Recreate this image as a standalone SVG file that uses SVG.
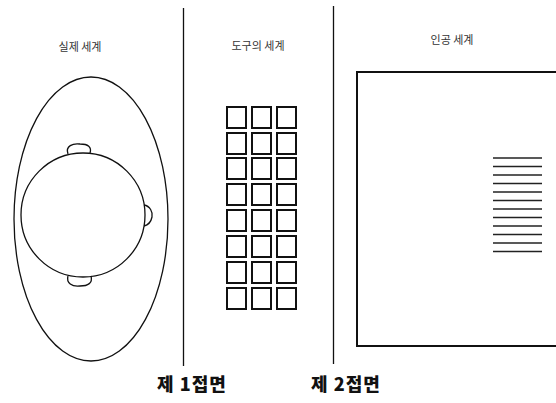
<svg xmlns="http://www.w3.org/2000/svg" width="556" height="403" viewBox="0 0 556 403">
<style>
.ln{fill:none;stroke:#111;stroke-width:1.3}
.sq{fill:#fff;stroke:#111;stroke-width:2}
.hl{stroke:#222;stroke-width:1.4}
.t{font-family:"Noto Sans CJK KR","Noto Sans",sans-serif;font-size:11px;fill:#333;text-anchor:middle}
.b{font-family:"Noto Sans CJK KR","Noto Sans",sans-serif;font-size:18px;font-weight:900;fill:#111;text-anchor:middle;letter-spacing:1px}
</style>
<rect width="556" height="403" fill="#fff"/>
<g id="dividers">
<line class="ln" x1="183.5" y1="8" x2="183.5" y2="366"/>
<line class="ln" x1="333.5" y1="6" x2="333.5" y2="364"/>
</g>
<g id="real-world">
<text class="t" x="80" y="51">실제 세계</text>
<ellipse class="ln" cx="91" cy="219" rx="77" ry="142"/>
<circle class="ln" cx="83" cy="215" r="62"/>
<path class="ln" d="M68,154 C65,146 73,143 80,144 C88,144 92,147 90,153"/>
<path class="ln" d="M144,205 C150,206 153,212 152,217 C151,222 148,225 144,226"/>
<path class="ln" d="M68,276 C66,283 72,287 80,286 C88,286 93,283 91,276"/>
</g>
<g id="tool-world">
<text class="t" x="258" y="50">도구의 세계</text>
<g id="grid">
<rect class="sq" x="227" y="107" width="19" height="21"/><rect class="sq" x="252" y="107" width="19" height="21"/><rect class="sq" x="277" y="107" width="19" height="21"/>
<rect class="sq" x="227" y="133" width="19" height="21"/><rect class="sq" x="252" y="133" width="19" height="21"/><rect class="sq" x="277" y="133" width="19" height="21"/>
<rect class="sq" x="227" y="158" width="19" height="21"/><rect class="sq" x="252" y="158" width="19" height="21"/><rect class="sq" x="277" y="158" width="19" height="21"/>
<rect class="sq" x="227" y="184" width="19" height="21"/><rect class="sq" x="252" y="184" width="19" height="21"/><rect class="sq" x="277" y="184" width="19" height="21"/>
<rect class="sq" x="227" y="210" width="19" height="21"/><rect class="sq" x="252" y="210" width="19" height="21"/><rect class="sq" x="277" y="210" width="19" height="21"/>
<rect class="sq" x="227" y="236" width="19" height="21"/><rect class="sq" x="252" y="236" width="19" height="21"/><rect class="sq" x="277" y="236" width="19" height="21"/>
<rect class="sq" x="227" y="262" width="19" height="21"/><rect class="sq" x="252" y="262" width="19" height="21"/><rect class="sq" x="277" y="262" width="19" height="21"/>
<rect class="sq" x="227" y="288" width="19" height="21"/><rect class="sq" x="252" y="288" width="19" height="21"/><rect class="sq" x="277" y="288" width="19" height="21"/>
</g>
</g>
<g id="artificial-world">
<text class="t" x="452" y="44">인공 세계</text>
<rect x="357" y="72" width="210" height="274" fill="none" stroke="#111" stroke-width="2"/>
<g id="lines">
<line class="hl" x1="493" y1="158" x2="542" y2="158"/>
<line class="hl" x1="493" y1="166.5" x2="542" y2="166.5"/>
<line class="hl" x1="493" y1="175" x2="542" y2="175"/>
<line class="hl" x1="493" y1="183.5" x2="542" y2="183.5"/>
<line class="hl" x1="493" y1="192" x2="542" y2="192"/>
<line class="hl" x1="493" y1="200.5" x2="542" y2="200.5"/>
<line class="hl" x1="493" y1="209" x2="542" y2="209"/>
<line class="hl" x1="493" y1="217.5" x2="542" y2="217.5"/>
<line class="hl" x1="493" y1="226" x2="542" y2="226"/>
<line class="hl" x1="493" y1="234.5" x2="542" y2="234.5"/>
<line class="hl" x1="493" y1="243" x2="542" y2="243"/>
<line class="hl" x1="493" y1="251.5" x2="542" y2="251.5"/>
</g>
</g>
<g id="labels">
<text class="b" x="192" y="391">제 1접면</text>
<text class="b" x="346" y="391">제 2접면</text>
</g>
</svg>
